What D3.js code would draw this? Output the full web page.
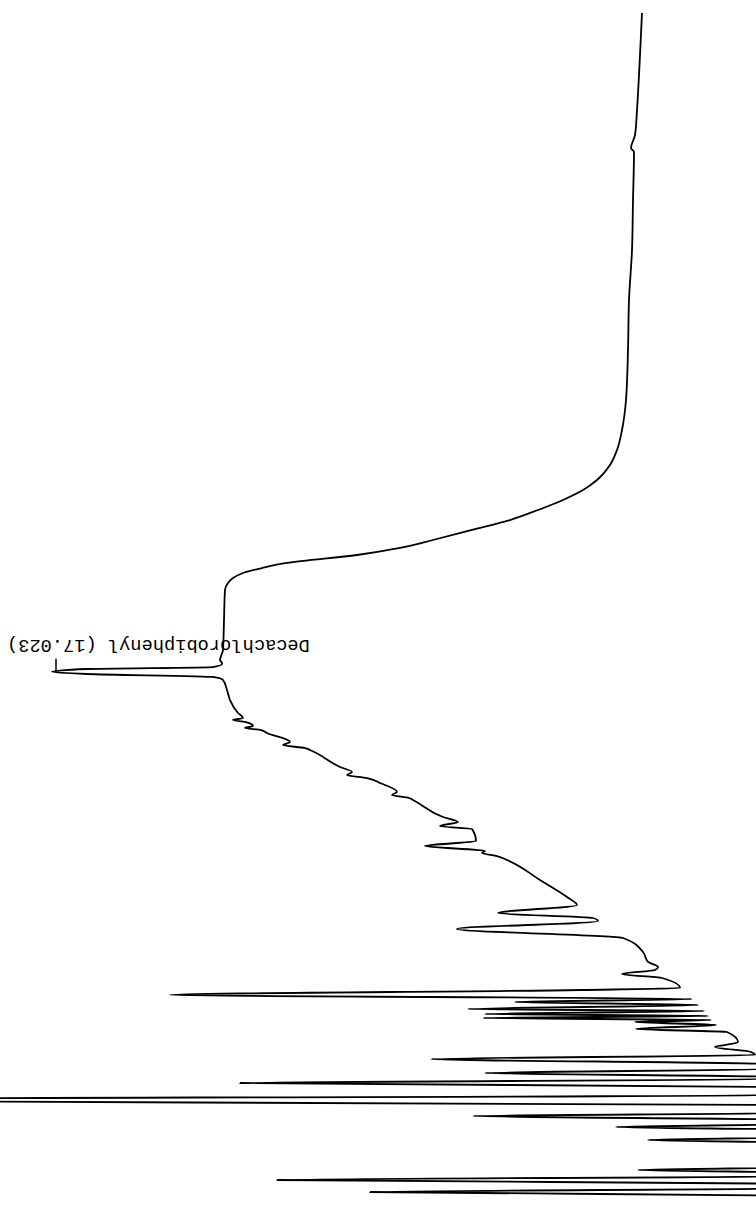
<!DOCTYPE html>
<html>
<head>
<meta charset="utf-8">
<script src="https://cdn.jsdelivr.net/npm/d3@7"></script>
<style>
  body { margin: 0; background: #fff; }
  svg { display: block; }
</style>
</head>
<body>
<div id="chart"></div>
<script>
const width = 756;
const height = 1209;

// retention time (min), read down the trace
const traceTime = [
  28.003, 27.303, 26.97, 26.387, 25.97, 25.753, 25.687, 24.887, 24.053, 23.22,
  22.387, 21.553, 21.053, 20.72, 20.47, 20.22, 20.053, 19.887, 19.72, 19.553,
  19.387, 19.22, 19.087, 18.97, 18.837, 18.753, 18.67, 18.587, 18.503, 18.387,
  17.887, 17.387, 17.22, 17.17, 17.153, 17.103, 17.07, 17.023, 16.987, 16.937,
  16.887, 16.72, 16.553, 16.337, 16.253, 16.22, 16.187, 16.12, 16.087, 16.053,
  16.003, 15.853, 15.803, 15.753, 15.72, 15.437, 15.353, 15.303, 15.253, 15.17,
  15.02, 14.97, 14.92, 14.887, 14.603, 14.52, 14.453, 14.403, 14.203, 14.12,
  14.037, 14.003, 13.953, 13.887, 13.553, 13.27, 13.137, 13.003, 12.92, 12.87,
  12.737, 12.587, 12.353, 12.187, 12.103, 12.053, 11.987, 11.92, 11.753, 11.72,
  11.637, 11.57, 11.52, 11.47, 11.403, 11.37, 11.32, 11.287, 11.253, 11.22,
  11.187, 11.137, 11.07, 11.02, 10.853, 10.803, 10.77, 10.687, 10.637, 10.57,
  10.487, 10.403, 10.337, 10.27, 10.237, 10.17, 10.103, 9.97, 9.887, 9.803,
  9.67, 9.62, 9.553, 9.487, 9.437, 9.387, 9.27, 9.22, 9.17, 8.77,
  8.72, 8.67, 8.62, 8.553, 8.487, 8.42, 8.353, 8.287, 8.07
];

// detector signal at each of those times
const traceSignal = [
  258, 260, 261, 263, 265, 269, 266, 267, 268, 271,
  272, 274, 278, 283, 290, 303, 317, 337, 362, 390,
  428, 467, 500, 543, 613, 638, 657, 667, 672, 675,
  676, 677, 680, 678, 678, 687, 813, 848, 813, 687,
  677, 673, 670, 662, 657, 667, 655, 647, 655, 639,
  633, 610, 617, 595, 590, 560, 548, 553, 533, 520,
  503, 508, 491, 487, 457, 442, 460, 428, 424, 475,
  415, 418, 403, 393, 360, 333, 323, 402, 307, 302,
  443, 277, 257, 252, 242, 245, 278, 238, 220, 320,
  730, 208, 385, 202, 432, 196, 415, 192, 417, 189,
  265, 184, 264, 173, 162, 175, 185, 149, 145, 469,
  135, 130, 415, 124, 122, 660, 117, 112, 1300, 107,
  103, 427, 99, 97, 284, 94, 91, 252, 89, 80,
  262, 78, 77, 623, 74, 72, 530, 70, 65
];

const labelNames = ["Decachlorobiphenyl"];
const labelTimes = [17.023];
const labelSignals = [848];

const svg = d3
  .select("#chart")
  .append("svg")
  .attr("width", width)
  .attr("height", height)
  .style("background", "#fff");

// time runs up the page, signal grows to the left
const y = d3.scaleLinear().domain([28.22, 8.07]).range([0, height]);
const x = d3.scaleLinear().domain([0, 900]).range([900, 0]);

const line = d3
  .line()
  .curve(d3.curveMonotoneY)
  .x((d) => x(traceSignal[d]))
  .y((d) => y(traceTime[d]));

svg
  .append("path")
  .attr("d", line(d3.range(traceTime.length)))
  .attr("fill", "none")
  .attr("stroke", "#000")
  .attr("stroke-width", 1.8)
  .attr("stroke-linejoin", "round");

const labels = svg
  .append("g")
  .selectAll("g")
  .data(labelNames)
  .enter()
  .append("g");

labels
  .append("line")
  .attr("x1", (d, i) => x(labelSignals[i]) + 4)
  .attr("x2", (d, i) => x(labelSignals[i]) + 4)
  .attr("y1", (d, i) => y(labelTimes[i]) - 13)
  .attr("y2", (d, i) => y(labelTimes[i]))
  .attr("stroke", "#000")
  .attr("stroke-width", 1.5);

// printout text is upside down
labels
  .append("text")
  .attr("transform", (d, i) =>
    `translate(${x(labelSignals[i]) - 45},${y(labelTimes[i]) - 32}) rotate(180)`)
  .attr("text-anchor", "end")
  .style("font-family", "'Liberation Mono', 'DejaVu Sans Mono', monospace")
  .style("font-size", "18.7px")
  .attr("fill", "#000")
  .text((d, i) => `${d} (${labelTimes[i].toFixed(3)})`);
</script>
</body>
</html>
